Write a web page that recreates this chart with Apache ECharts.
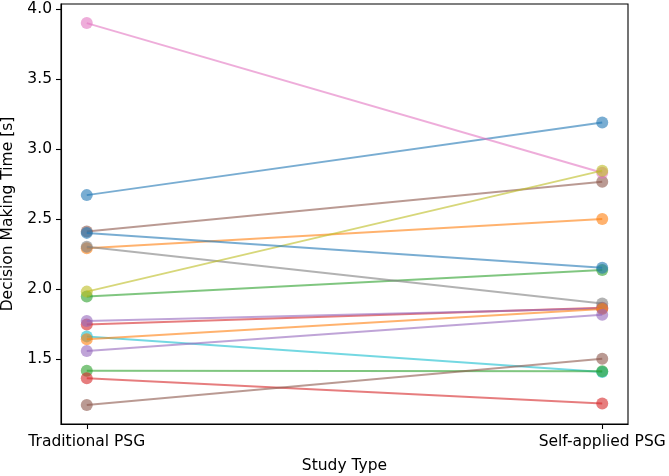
<!DOCTYPE html>
<html>
<head>
<meta charset="utf-8">
<script src="https://cdn.jsdelivr.net/npm/echarts@6/dist/echarts.min.js"></script>
<style>
  html, body { margin: 0; padding: 0; background: #fff; }
  #chart { width: 669px; height: 476px; }
</style>
</head>
<body>
<div id="chart"></div>
<script>
// study types on the x axis
const studyTypes = ['Traditional PSG', 'Self-applied PSG'];

// decision making time per subject [s]
const traditional = [2.67, 2.29, 1.945, 1.745, 1.77, 2.41, 3.90, 2.30, 1.98, 1.66, 2.40, 1.64, 1.415, 1.36, 1.555, 1.17];
const selfApplied = [3.19, 2.50, 2.135, 1.865, 1.86, 2.765, 2.83, 1.895, 2.845, 1.405, 2.15, 1.855, 1.41, 1.18, 1.815, 1.50];

const yTicks = [1.5, 2.0, 2.5, 3.0, 3.5, 4.0];

// matplotlib tab10
const palette = ['#1f77b4', '#ff7f0e', '#2ca02c', '#d62728', '#9467bd',
  '#8c564b', '#e377c2', '#7f7f7f', '#bcbd22', '#17becf'];

const font = 'DejaVu Sans';
const fontSize = 15.5;

const allVals = traditional.concat(selfApplied);
const dMin = Math.min.apply(null, allVals);
const dMax = Math.max.apply(null, allVals);
const pad = (dMax - dMin) * 0.05;

const series = [];
for (let i = 0; i < traditional.length; i++) {
  const c = palette[i % palette.length];
  series.push({
    type: 'line',
    data: [[0, traditional[i]], [1, selfApplied[i]]],
    symbol: 'circle',
    symbolSize: 12,
    lineStyle: { color: c, width: 2, opacity: 0.6 },
    itemStyle: { color: c, opacity: 0.6 },
    emphasis: { disabled: true },
    z: 2 + i,
  });
}

const myChart = echarts.init(document.getElementById('chart'));
myChart.setOption({
  animation: false,
  backgroundColor: '#fff',
  grid: {
    left: 61, right: 41, top: 4, bottom: 52,
    outerBoundsMode: 'none',
    containLabel: false,
    show: true, borderColor: '#000', borderWidth: 1.1, backgroundColor: 'transparent',
  },
  xAxis: {
    type: 'value',
    min: -0.05,
    max: 1.05,
    name: 'Study Type',
    nameLocation: 'middle',
    nameGap: 34,
    nameTextStyle: { color: '#000', fontFamily: font, fontSize: fontSize },
    axisLine: { show: true, onZero: false, lineStyle: { color: '#000', width: 1.1 } },
    axisTick: { show: true, length: 5, customValues: [0, 1], lineStyle: { color: '#000', width: 1.1 } },
    axisLabel: {
      customValues: [0, 1],
      margin: 10,
      color: '#000', fontFamily: font, fontSize: fontSize,
      formatter: (v) => studyTypes[Math.round(v)],
    },
    splitLine: { show: false },
  },
  yAxis: {
    type: 'value',
    min: dMin - pad,
    max: dMax + pad,
    name: 'Decision Making Time [s]',
    nameLocation: 'middle',
    nameGap: 39,
    nameTextStyle: { color: '#000', fontFamily: font, fontSize: fontSize },
    axisLine: { show: true, onZero: false, lineStyle: { color: '#000', width: 1.1 } },
    axisTick: { show: true, length: 5, customValues: yTicks, lineStyle: { color: '#000', width: 1.1 } },
    axisLabel: {
      customValues: yTicks,
      margin: 9,
      color: '#000', fontFamily: font, fontSize: fontSize,
      formatter: (v) => v.toFixed(1),
    },
    splitLine: { show: false },
  },
  series: series,
});
</script>
</body>
</html>
